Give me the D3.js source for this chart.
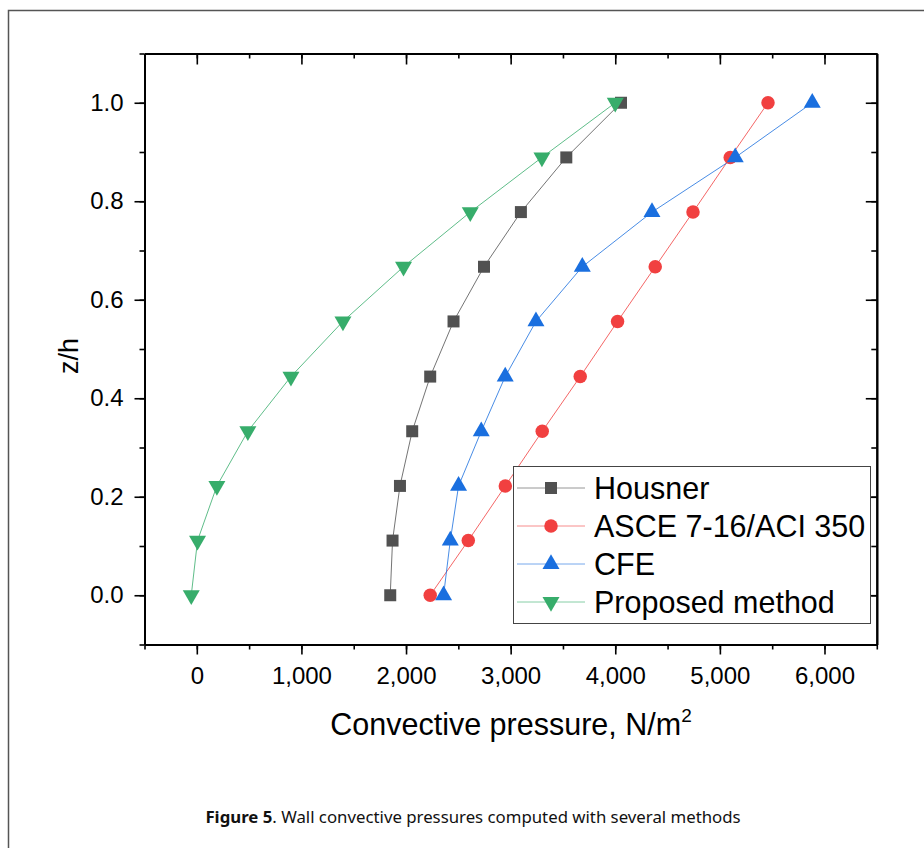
<!DOCTYPE html>
<html>
<head>
<meta charset="utf-8">
<script src="https://cdn.jsdelivr.net/npm/d3@7"></script>
<style>
  html, body { margin: 0; padding: 0; background: #fff; }
  svg { display: block; }
  .tick text { font-family: "Liberation Sans", Arial, sans-serif; fill: #000; }
</style>
</head>
<body>
<svg id="chart" width="924" height="848"></svg>
<script>
// Relative height on the wall (z/h) shared by every method
const zh = [0, 0.111, 0.222, 0.333, 0.444, 0.556, 0.667, 0.778, 0.889, 1.0];

// Convective pressure (N/m2) at each height, one array per method
const housner  = [1849, 1871, 1942, 2059, 2231, 2454, 2745, 3098, 3532, 4055];
const asce     = [2231, 2595, 2949, 3302, 3665, 4022, 4382, 4743, 5099, 5460];
const cfe      = [2359, 2423, 2502, 2719, 2948, 3242, 3685, 4351, 5147, 5883];
const proposed = [-53, 7, 192, 488, 900, 1397, 1976, 2614, 3299, 4000];

const seriesNames = ["Housner", "ASCE 7-16/ACI 350", "CFE", "Proposed method"];
const seriesValues = [housner, asce, cfe, proposed];
const seriesColors = ["#515151", "#F14040", "#1A6FDF", "#37AD6B"];
const seriesSymbols = [d3.symbolSquare, d3.symbolCircle, d3.symbolTriangle, d3.symbolTriangle];
const symbolSizes = [144, 143, 125, 125];
const symbolRotate = [0, 0, 0, 180];

// Axis ticks
const xTicks = [0, 1000, 2000, 3000, 4000, 5000, 6000];
const xMinor = d3.range(-500, 6501, 500);
const yTicks = [0, 0.2, 0.4, 0.6, 0.8, 1.0];
const yMinor = d3.range(-1, 12).map(i => i / 10);

const xTitle = "Convective pressure, N/m";
const yTitle = "z/h";
const captionBold = "Figure 5";
const captionText = ". Wall convective pressures computed with several methods";

const svg = d3.select("#chart");

// Page frame
svg.append("rect")
  .attr("x", 8.5).attr("y", 10.5)
  .attr("width", 1000).attr("height", 1000)
  .attr("fill", "none").attr("stroke", "#555").attr("stroke-width", 1.5);

const x = d3.scaleLinear().domain([-500, 6500]).range([144.5, 876.8]);
const y = d3.scaleLinear().domain([-0.1, 1.1]).range([644.5, 53.5]);

const fontAxis = '"Liberation Sans", Arial, sans-serif';

function styleAxis(g, fontSize) {
  g.select(".domain").attr("stroke", "#000").attr("stroke-width", 2);
  g.selectAll(".tick line").attr("stroke", "#000").attr("stroke-width", 1.6);
  g.selectAll(".tick text").attr("font-size", fontSize);
}

// Bottom axis: labelled majors + minor ticks
const gxMinor = svg.append("g").attr("transform", `translate(0,${y(-0.1)})`)
  .call(d3.axisBottom(x).tickValues(xMinor).tickSize(5).tickSizeOuter(0).tickFormat(""));
styleAxis(gxMinor, 0);
const gx = svg.append("g").attr("transform", `translate(0,${y(-0.1)})`)
  .call(d3.axisBottom(x).tickValues(xTicks).tickSize(10).tickSizeOuter(0)
        .tickPadding(12).tickFormat(d3.format(",")));
styleAxis(gx, 24);

// Top axis: inward ticks, no labels
const gtMinor = svg.append("g").attr("transform", `translate(0,${y(1.1)})`)
  .call(d3.axisTop(x).tickValues(xMinor).tickSize(-5).tickSizeOuter(0).tickFormat(""));
styleAxis(gtMinor, 0);
const gt = svg.append("g").attr("transform", `translate(0,${y(1.1)})`)
  .call(d3.axisTop(x).tickValues(xTicks).tickSize(-11).tickSizeOuter(0).tickFormat(""));
styleAxis(gt, 0);

// Left axis
const gyMinor = svg.append("g").attr("transform", `translate(${x(-500)},0)`)
  .call(d3.axisLeft(y).tickValues(yMinor).tickSize(5).tickSizeOuter(0).tickFormat(""));
styleAxis(gyMinor, 0);
const gy = svg.append("g").attr("transform", `translate(${x(-500)},0)`)
  .call(d3.axisLeft(y).tickValues(yTicks).tickSize(10).tickSizeOuter(0)
        .tickPadding(11).tickFormat(d3.format(".1f")));
styleAxis(gy, 24);

// Right axis: inward ticks, no labels
const grMinor = svg.append("g").attr("transform", `translate(${x(6500)},0)`)
  .call(d3.axisRight(y).tickValues(yMinor).tickSize(-5.5).tickSizeOuter(0).tickFormat(""));
styleAxis(grMinor, 0);
const gr = svg.append("g").attr("transform", `translate(${x(6500)},0)`)
  .call(d3.axisRight(y).tickValues(yTicks).tickSize(-11).tickSizeOuter(0).tickFormat(""));
styleAxis(gr, 0);

// Series lines and markers
const line = d3.line().x(d => x(d[0])).y(d => y(d[1]));
seriesValues.forEach((vals, i) => {
  const pts = vals.map((v, k) => [v, zh[k]]);
  svg.append("path").datum(pts)
    .attr("d", line)
    .attr("fill", "none")
    .attr("stroke", seriesColors[i])
    .attr("stroke-opacity", 0.8)
    .attr("stroke-width", 1);
});
seriesValues.forEach((vals, i) => {
  const pts = vals.map((v, k) => [v, zh[k]]);
  svg.append("g").selectAll("path").data(pts).join("path")
    .attr("d", d3.symbol().type(seriesSymbols[i]).size(symbolSizes[i]))
    .attr("transform", d => `translate(${x(d[0])},${y(d[1])}) rotate(${symbolRotate[i]})`)
    .attr("fill", seriesColors[i]);
});

// Legend
const legend = svg.append("g");
legend.append("rect")
  .attr("x", 513.5).attr("y", 466.5).attr("width", 357).attr("height", 157)
  .attr("fill", "#fff").attr("stroke", "#444").attr("stroke-width", 1);
const legendRows = [488, 526, 564, 602];
seriesNames.forEach((name, i) => {
  const ly = legendRows[i];
  legend.append("line")
    .attr("x1", 517).attr("x2", 585).attr("y1", ly).attr("y2", ly)
    .attr("stroke", seriesColors[i]).attr("stroke-opacity", 0.6).attr("stroke-width", 1);
  legend.append("path")
    .attr("d", d3.symbol().type(seriesSymbols[i]).size(symbolSizes[i])())
    .attr("transform", `translate(551,${ly}) rotate(${symbolRotate[i]})`)
    .attr("fill", seriesColors[i]);
  legend.append("text")
    .attr("x", 594).attr("y", ly).attr("dy", "0.36em")
    .attr("font-family", fontAxis).attr("font-size", 30.5).attr("fill", "#000")
    .text(name);
});

// Axis titles
const xt = svg.append("text")
  .attr("x", 511).attr("y", 735)
  .attr("text-anchor", "middle")
  .attr("font-family", fontAxis).attr("font-size", 30.5).attr("fill", "#000");
xt.append("tspan").text(xTitle);
xt.append("tspan").attr("font-size", 19).attr("dy", -13).text("2");

svg.append("text")
  .attr("transform", "translate(78,356) rotate(-90)")
  .attr("text-anchor", "middle")
  .attr("font-family", fontAxis).attr("font-size", 27).attr("fill", "#000")
  .text(yTitle);

// Caption
const cap = svg.append("text")
  .attr("x", 473).attr("y", 823)
  .attr("text-anchor", "middle")
  .attr("font-family", '"Noto Sans", "Open Sans", sans-serif')
  .attr("font-size", 16.8).attr("fill", "#111");
cap.append("tspan").attr("font-weight", "bold").text(captionBold);
cap.append("tspan").text(captionText);
</script>
</body>
</html>
